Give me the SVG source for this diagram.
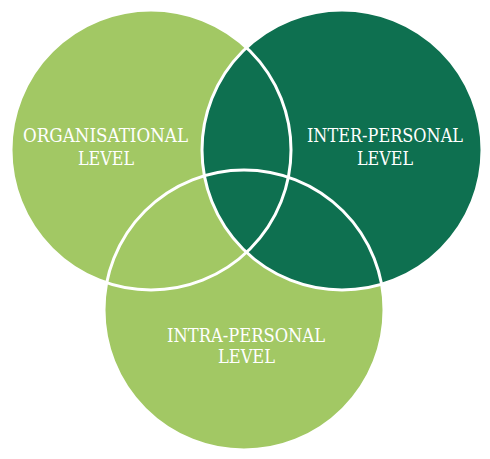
<svg xmlns="http://www.w3.org/2000/svg" width="490" height="459" viewBox="0 0 490 459">
<style>
.light{fill:#a2c864}
.dark{fill:#0e7050}
.ring{fill:none;stroke:#ffffff;stroke-width:3}
.lbl{font-family:"DejaVu Serif","Liberation Serif",serif;font-size:18px;fill:#ffffff;text-anchor:middle}
</style>
<rect width="490" height="459" fill="#ffffff"/>
<g id="organisational">
<circle class="light" cx="151" cy="150" r="140"/>
</g>
<g id="intra-personal">
<circle class="light" cx="244" cy="310" r="140"/>
</g>
<g id="inter-personal">
<circle class="dark" cx="342" cy="150" r="140"/>
</g>
<g id="outlines">
<circle class="ring" cx="151" cy="150" r="140"/>
<circle class="ring" cx="244" cy="310" r="140"/>
<circle class="ring" cx="342" cy="150" r="140"/>
</g>
<g id="labels">
<text class="lbl" x="105.5" y="142" textLength="165" lengthAdjust="spacingAndGlyphs">ORGANISATIONAL</text>
<text class="lbl" x="106" y="165" textLength="56" lengthAdjust="spacingAndGlyphs">LEVEL</text>
<text class="lbl" x="385" y="142" textLength="156" lengthAdjust="spacingAndGlyphs">INTER-PERSONAL</text>
<text class="lbl" x="385" y="165" textLength="56" lengthAdjust="spacingAndGlyphs">LEVEL</text>
<text class="lbl" x="246" y="342" textLength="158" lengthAdjust="spacingAndGlyphs">INTRA-PERSONAL</text>
<text class="lbl" x="246.5" y="363" textLength="57" lengthAdjust="spacingAndGlyphs">LEVEL</text>
</g>
</svg>
